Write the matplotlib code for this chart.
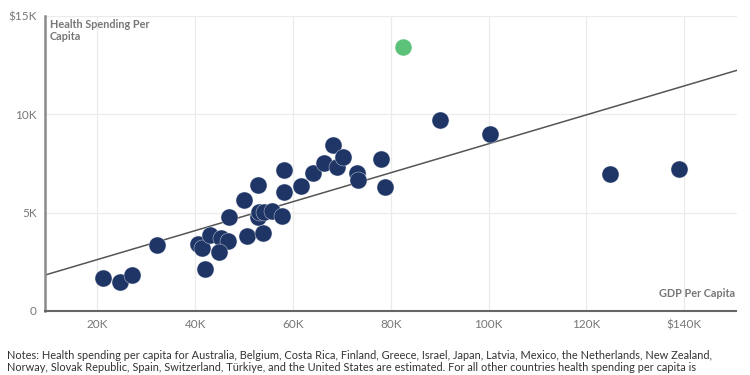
import numpy as np
import matplotlib.pyplot as plt

plt.rcParams['font.family'] = ['Lato', 'DejaVu Sans']

# GDP per capita (USD) and health spending per capita (USD)
gdp = [21100, 24700, 27000, 32100, 40500, 41500, 43100, 45200, 46800, 44800,
       42100, 47000, 49900, 52800, 50700, 53800, 52800, 53000, 54000, 55800,
       57700, 58100, 58100, 61600, 64200, 66300, 68100, 69100, 70300, 73200,
       73400, 78100, 78900, 90000, 100200, 124900, 138900]
health = [1680, 1470, 1830, 3350, 3400, 3200, 3860, 3710, 3550, 3000,
          2130, 4770, 5630, 6400, 3810, 3960, 4770, 5030, 5030, 5080,
          4820, 6040, 7160, 6350, 7000, 7510, 8430, 7310, 7820, 7000,
          6650, 7720, 6290, 9700, 8980, 6950, 7210]
# highlighted country
hl_gdp = [82600]
hl_health = [13400]
# trend line end points
trend_x = [9300, 150700]
trend_y = [1820, 12220]

xticks = [20000, 40000, 60000, 80000, 100000, 120000, 140000]
xlabels = ['20K', '40K', '60K', '80K', '100K', '120K', '$140K']
yticks = [0, 5000, 10000, 15000]
ylabels = ['0', '5K', '10K', '$15K']

fig = plt.figure(figsize=(7.5, 3.75), dpi=100)
ax = fig.add_axes([0.06, 0.171, 0.922, 0.787])

ax.plot(trend_x, trend_y, color='#555555', lw=1.1, zorder=2)
ax.scatter(gdp, health, s=150, color='#1f3566', edgecolors='#dde2ea', linewidths=0.3, zorder=3)
ax.scatter(hl_gdp, hl_health, s=150, color='#5cc27a', edgecolors='white', linewidths=0.3, zorder=3)

ax.set_xlim(9300, 150700)
ax.set_ylim(0, 15000)
ax.set_xticks(xticks)
ax.set_xticklabels(xlabels)
ax.set_yticks(yticks)
ax.set_yticklabels(ylabels)
ax.tick_params(colors='#777777', labelsize=8.5, length=0)
ax.tick_params(axis='x', pad=6)
ax.tick_params(axis='y', pad=6)
ax.grid(True, color='#ebebeb', lw=0.9, zorder=0)
ax.set_axisbelow(True)
for s in ['top', 'right']:
    ax.spines[s].set_visible(False)
ax.spines['left'].set_color('#8a8a8a')
ax.spines['left'].set_linewidth(1.8)
ax.spines['bottom'].set_color('#666666')
ax.spines['bottom'].set_linewidth(1.5)

ax.text(0.007, 0.988, 'Health Spending Per\nCapita', transform=ax.transAxes,
        ha='left', va='top', fontsize=7.8, fontweight='bold', color='#777777', linespacing=1.05)
ax.text(0.998, 0.04, 'GDP Per Capita', transform=ax.transAxes,
        ha='right', va='bottom', fontsize=7.8, fontweight='bold', color='#777777')

notes = ['Notes: Health spending per capita for Australia, Belgium, Costa Rica, Finland, Greece, Israel, Japan, Latvia, Mexico, the Netherlands, New Zealand,',
         'Norway, Slovak Republic, Spain, Switzerland, Türkiye, and the United States are estimated. For all other countries health spending per capita is']
fig.text(0.009, 0.0515, notes[0], ha='left', va='center', fontsize=7.9, color='#333333')
fig.text(0.009, 0.0203, notes[1], ha='left', va='center', fontsize=7.9, color='#333333')

fig.savefig('out.png', dpi=100)
